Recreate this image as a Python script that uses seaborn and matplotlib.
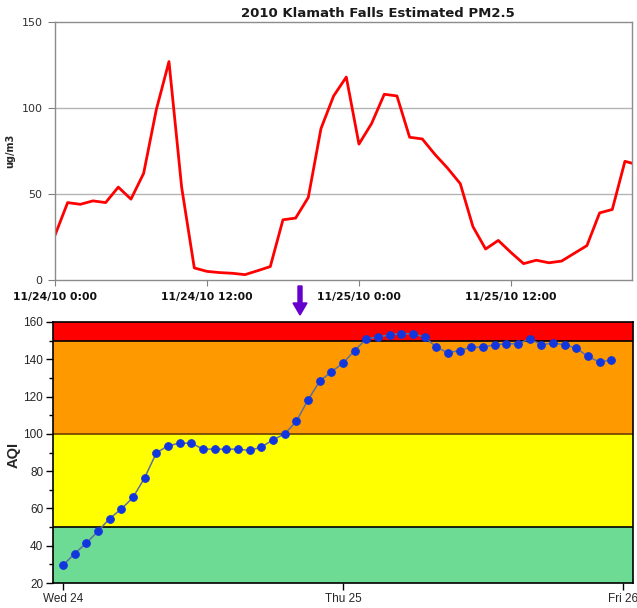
import pandas as pd
import matplotlib.pyplot as plt
import seaborn as sns
from matplotlib.ticker import MultipleLocator
from matplotlib.transforms import ScaledTranslation

# hourly PM2.5 estimate, starting 11/24/10 0:00
pm_hours = list(range(47))
pm_values = [26, 45, 44, 46, 45, 54, 47, 62, 99, 127, 54, 7, 5, 4.3, 3.9, 3.1, 5.4, 7.8,
             35, 36, 48, 88, 107, 118, 79, 91, 108, 107, 83, 82, 73, 65, 56, 31, 18, 23,
             16, 9.5, 11.5, 10, 11, 15.5, 20, 39, 41, 69, 67]
pm_ticks = [0, 12, 24, 36]
pm_tick_labels = ['11/24/10 0:00', '11/24/10 12:00', '11/25/10 0:00', '11/25/10 12:00']

# hourly AQI, starting Wed 24 0:00
aqi_hours = list(range(48))
aqi_values = [29.5, 35.8, 41.4, 47.8, 54.6, 59.7, 65.9, 76.5, 89.8, 93.6, 95, 95,
              91.8, 91.8, 91.8, 91.8, 91.1, 92.9, 96.8, 100, 106.7, 118.2, 128.2, 133.3,
              137.9, 144.7, 151, 151.9, 153.2, 153.7, 153.7, 151.9, 146.5, 143.5, 144.7, 146.5,
              146.5, 147.8, 148.3, 148.3, 151, 147.8, 148.7, 147.8, 146, 141.5, 138.5, 139.7]
day_ticks = [0, 24, 48]
day_labels = ['Wed 24', 'Thu 25', 'Fri 26']
band_edges = [20, 50, 100, 150, 160]
band_colors = ['#6edb94', '#ffff00', '#ff9900', '#ff0000']

pm = pd.DataFrame({'hour': pm_hours, 'pm25': pm_values})
aqi = pd.DataFrame({'hour': aqi_hours, 'aqi': aqi_values})

sns.set_theme(style='white', rc={'axes.facecolor': 'white', 'figure.facecolor': 'white'})

fig = plt.figure(figsize=(6.37, 6.08), dpi=100)
ax1 = fig.add_axes([0.0863, 0.5395, 0.9057, 0.4243])
ax2 = fig.add_axes([0.0832, 0.0411, 0.9105, 0.4293])

# --- top panel: PM2.5
for y in [50, 100]:
    ax1.axhline(y, color='#b4b4b4', linewidth=1, zorder=0)
sns.lineplot(data=pm, x='hour', y='pm25', ax=ax1, color='#ff0000', linewidth=2)
ax1.set_xlim(0, 45.55)
ax1.set_ylim(0, 150)
ax1.set_yticks([0, 50, 100, 150])
ax1.set_xticks(pm_ticks)
ax1.set_xticklabels(pm_tick_labels, fontsize=7.8, fontweight='bold', color='#111111',
                    family='DejaVu Sans')
ax1.tick_params(axis='y', labelsize=8, labelcolor='#303030', length=5, width=0.8,
                color='#808080', left=True, pad=4)
ax1.tick_params(axis='x', length=4, width=0.8, color='#808080', bottom=True, pad=5)
for s in ax1.spines.values():
    s.set_color('#8c8c8c')
    s.set_linewidth(1)
ax1.set_xlabel('')
ax1.set_ylabel('ug/m3', fontsize=7, fontweight='bold')
ax1.yaxis.set_label_coords(-0.068, 0.5)
fig.text(0.593, 0.977, '2010 Klamath Falls Estimated PM2.5', ha='center', va='center',
         fontsize=9.5, fontweight='bold', color='#1a1a1a')

# --- bottom panel: AQI with category bands
for lo, hi, c in zip(band_edges[:-1], band_edges[1:], band_colors):
    ax2.axhspan(lo, hi, color=c, zorder=0, linewidth=0)
for y, c in [(50, '#000000'), (100, '#6b4000'), (150, '#000000')]:
    ax2.axhline(y, color=c, linewidth=1.2, zorder=1)
sns.lineplot(data=aqi, x='hour', y='aqi', ax=ax2, color='#5f6f9c', linewidth=1.1,
             marker='o', markersize=5.5, markerfacecolor='#1236dd',
             markeredgecolor='#1236dd', zorder=3)
ax2.set_xlim(-0.86, 48.86)
ax2.set_ylim(20, 160)
ax2.yaxis.set_major_locator(MultipleLocator(20))
ax2.yaxis.set_minor_locator(MultipleLocator(10))
ax2.set_xticks(day_ticks)
ax2.set_xticklabels(day_labels)
for lab in ax2.get_xticklabels() + ax2.get_yticklabels():
    lab.set_family('Liberation Sans')
    lab.set_fontsize(8.5)
last = ax2.get_xticklabels()[-1]
last.set_transform(last.get_transform() + ScaledTranslation(-2 / 100, 0, fig.dpi_scale_trans))
ax2.tick_params(axis='both', which='major', length=5, width=1, color='black',
                left=True, bottom=True, pad=2)
ax2.tick_params(axis='y', which='minor', length=3, width=1, color='black', left=True)
for s in ax2.spines.values():
    s.set_color('black')
    s.set_linewidth(1.2)
ax2.set_xlabel('')
ax2.set_ylabel('AQI', fontsize=10.5, fontweight='bold', family='Liberation Sans')
ax2.yaxis.set_label_coords(-0.055, 0.49)

# purple arrow between the panels
fig.patches.append(plt.matplotlib.patches.FancyArrow(
    300 / 637, 1 - 286 / 608, 0, -29 / 608, width=4 / 637, head_width=14 / 637,
    head_length=12 / 608, length_includes_head=True, color='#6600cc',
    transform=fig.transFigure, figure=fig))

plt.savefig('out.png', dpi=100)
